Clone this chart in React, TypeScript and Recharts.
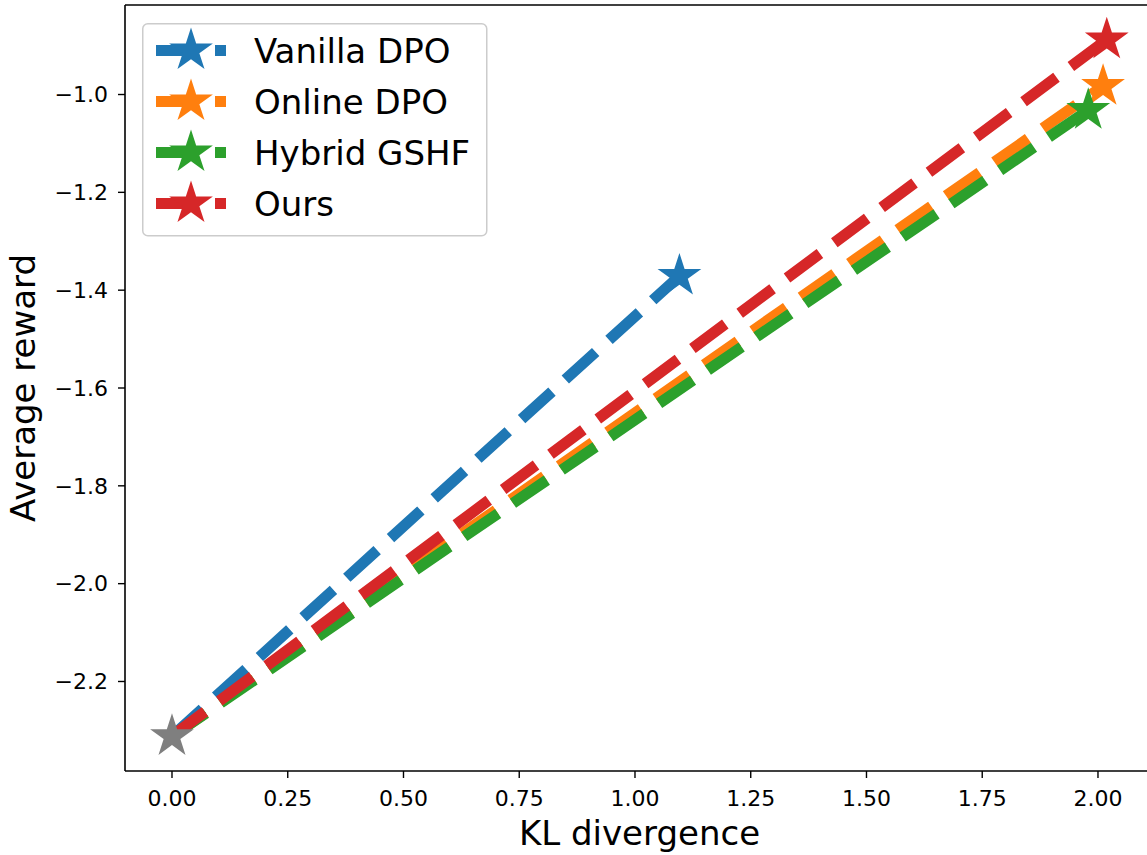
import React from 'react';
import { LineChart, Line, XAxis, YAxis, Legend, ReferenceLine } from 'recharts';

// ---- data ----
const seriesNames = ['Vanilla DPO', 'Online DPO', 'Hybrid GSHF', 'Ours'];
const seriesColors = ['#1f77b4', '#ff7f0e', '#2ca02c', '#d62728'];
const startKL = 0;
const startReward = -2.312;
const endKL = [1.096, 2.011, 1.979, 2.019];
const endReward = [-1.371, -0.983, -1.032, -0.888];
const xTicks = [0, 0.25, 0.5, 0.75, 1.0, 1.25, 1.5, 1.75, 2.0];
const yTicks = [-2.2, -2.0, -1.8, -1.6, -1.4, -1.2, -1.0];
const xDomain = [-0.1015, 2.121];
const yDomain = [-2.383, -0.817];

const FONT = '"DejaVu Sans", sans-serif';
const STAR_R = 23;
const LW = 11;
const DASH = '41 18';

function starPath(cx: number, cy: number, R: number) {
  const r = R * 0.381966;
  let d = '';
  for (let k = 0; k < 10; k++) {
    const a = (-90 + k * 36) * Math.PI / 180;
    const rr = k % 2 === 0 ? R : r;
    d += (k === 0 ? 'M' : 'L') + (cx + rr * Math.cos(a)).toFixed(2) + ',' + (cy + rr * Math.sin(a)).toFixed(2);
  }
  return d + 'Z';
}

const seriesData = seriesNames.map((_, i) => [
  { x: startKL, y: startReward },
  { x: endKL[i], y: endReward[i] },
]);
const startData = [{ x: startKL, y: startReward }];

const fmtX = (v: number) => v.toFixed(2);
const fmtY = (v: number) => (v < 0 ? '\u2212' : '') + Math.abs(v).toFixed(1);

function LegendBox() {
  const rowCenters = [27.5, 78.5, 129.5, 180.5];
  return (
    <svg width={346} height={214} style={{ display: 'block' }}>
      <rect x={0.75} y={0.75} width={344} height={212} rx={5} ry={5}
        fill="#ffffff" fillOpacity={0.8} stroke="#cccccc" strokeWidth={1.5} />
      {seriesNames.map((name, i) => (
        <g key={name}>
          <line x1={14} x2={84} y1={rowCenters[i]} y2={rowCenters[i]}
            stroke={seriesColors[i]} strokeWidth={LW} strokeDasharray={DASH} />
          <path d={starPath(49, rowCenters[i], STAR_R)} fill={seriesColors[i]} />
          <text x={112} y={rowCenters[i] + 12.4} fontSize={34} fontFamily={FONT} fill="#000">{name}</text>
        </g>
      ))}
    </svg>
  );
}

export default function App() {
  return (
    <div style={{ position: 'absolute', left: 0, top: 0, width: 1147, height: 855, overflow: 'hidden', background: '#fff', fontFamily: FONT }}>
      <LineChart width={1160} height={855} margin={{ top: 5, right: 6, bottom: 0, left: 0 }}>
        <XAxis
          dataKey="x"
          type="number"
          domain={xDomain}
          ticks={xTicks}
          tickFormatter={fmtX}
          allowDataOverflow
          height={84}
          tickSize={7}
          tickMargin={12}
          axisLine={{ stroke: '#000', strokeWidth: 1.6 }}
          tickLine={{ stroke: '#000', strokeWidth: 1.4 }}
          tick={{ fill: '#000', fontSize: 22, fontFamily: FONT }}
          label={(props: any) => {
            const vb = props.viewBox;
            return (
              <text x={vb.x + vb.width / 2} y={vb.y + 74} textAnchor="middle" fontSize={34} fontFamily={FONT} fill="#000">KL divergence</text>
            );
          }}
        />
        <YAxis
          dataKey="y"
          type="number"
          domain={yDomain}
          ticks={yTicks}
          tickFormatter={fmtY}
          allowDataOverflow
          width={125}
          tickSize={7}
          tickMargin={10}
          axisLine={{ stroke: '#000', strokeWidth: 1.6 }}
          tickLine={{ stroke: '#000', strokeWidth: 1.4 }}
          tick={{ fill: '#000', fontSize: 22, fontFamily: FONT }}
          label={(props: any) => {
            const vb = props.viewBox;
            const cx = vb.x + 35;
            const cy = vb.y + vb.height / 2;
            return (
              <text x={cx} y={cy} transform={`rotate(-90 ${cx} ${cy})`} textAnchor="middle" fontSize={34} fontFamily={FONT} fill="#000">Average reward</text>
            );
          }}
        />
        <ReferenceLine y={yDomain[1]} stroke="#000" strokeWidth={1.6} ifOverflow="visible" />
        {seriesNames.map((name, i) => (
          <Line
            key={name}
            name={name}
            data={seriesData[i]}
            dataKey="y"
            type="linear"
            stroke={seriesColors[i]}
            strokeWidth={LW}
            strokeDasharray={DASH}
            isAnimationActive={false}
            dot={(p: any) =>
              p.index === 1 ? (
                <path key={`d-${name}-${p.index}`} d={starPath(p.cx, p.cy, STAR_R)} fill={seriesColors[i]} />
              ) : (
                <g key={`d-${name}-${p.index}`} />
              )
            }
            activeDot={false}
          />
        ))}
        <Line
          name="start"
          data={startData}
          dataKey="y"
          stroke="none"
          isAnimationActive={false}
          legendType="none"
          dot={(p: any) => <path key={`start-${p.index}`} d={starPath(p.cx, p.cy, STAR_R)} fill="#7f7f7f" />}
          activeDot={false}
        />
        <Legend
          layout="vertical"
          align="center"
          verticalAlign="middle"
          content={() => <LegendBox />}
          wrapperStyle={{ position: 'absolute', left: 142, top: 23, width: 346, height: 214 }}
        />
      </LineChart>
    </div>
  );
}
